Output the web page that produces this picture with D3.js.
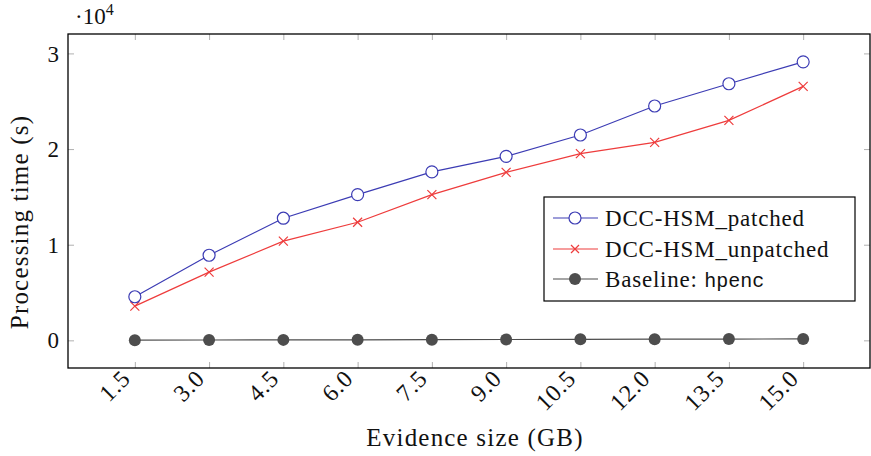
<!DOCTYPE html>
<html><head><meta charset="utf-8">
<script src="https://cdn.jsdelivr.net/npm/d3@7"></script>
<style>
body{margin:0;background:#fff;}
svg{display:block;}
</style></head>
<body><svg id="c" width="871" height="456"></svg>
<script>
const sizes = [1.5, 3.0, 4.5, 6.0, 7.5, 9.0, 10.5, 12.0, 13.5, 15.0];
const xTickLabels = ["1.5","3.0","4.5","6.0","7.5","9.0","10.5","12.0","13.5","15.0"];
const patched   = [4560, 8900, 12770, 15240, 17610, 19240, 21470, 24500, 26830, 29120];
const unpatched = [3580, 7130, 10370, 12350, 15240, 17570, 19520, 20700, 23000, 26550];
const baseline  = [20, 35, 50, 60, 75, 90, 105, 120, 135, 150];
const yTicks = [0, 10000, 20000, 30000];
const yTickLabels = ["0","1","2","3"];
const seriesNames = ["DCC-HSM_patched", "DCC-HSM_unpatched", "Baseline: "];

const SERIF = "Liberation Serif";
const MONO = "Liberation Mono";
const svg = d3.select("#c");
const L = 68, R = 870, T = 34, B = 368;

const xmin = d3.min(sizes), xmax = d3.max(sizes);
const xr = xmax - xmin;
const x = d3.scaleLinear().domain([xmin - 0.1*xr, xmax + 0.1*xr]).range([L, R]);
const allY = patched.concat(unpatched, baseline);
const ymin = d3.min(allY), ymax = d3.max(allY), yr = ymax - ymin;
const y = d3.scaleLinear().domain([ymin - 0.1*yr, ymax + 0.1*yr]).range([B, T]);

const tickCol = "#b0b0b0";
const gx = svg.append("g").attr("transform", `translate(0,${B})`)
  .call(d3.axisBottom(x).tickValues(sizes).tickSize(-6).tickFormat(""));
const gxt = svg.append("g").attr("transform", `translate(0,${T})`)
  .call(d3.axisTop(x).tickValues(sizes).tickSize(-6).tickFormat(""));
const gy = svg.append("g").attr("transform", `translate(${L},0)`)
  .call(d3.axisLeft(y).tickValues(yTicks).tickSize(-6).tickFormat((d,i)=>yTickLabels[i]));
const gyr = svg.append("g").attr("transform", `translate(${R},0)`)
  .call(d3.axisRight(y).tickValues(yTicks).tickSize(-6).tickFormat(""));
[gx,gxt,gy,gyr].forEach(g=>{
  g.select(".domain").remove();
  g.attr("font-family", SERIF);
  g.selectAll(".tick line").attr("stroke", tickCol).attr("stroke-width", 1);
});
gy.selectAll(".tick text").attr("x", -9).attr("dy","0.33em")
  .attr("font-family", SERIF).attr("font-size", 23).attr("fill","#111");

// x tick labels rotated
svg.append("g").selectAll("text").data(sizes).join("text")
  .attr("transform", d => `translate(${x(d)-3},${B+12}) rotate(-45)`)
  .attr("text-anchor","end")
  .attr("font-family", SERIF).attr("font-size", 24).attr("fill","#111")
  .attr("letter-spacing", 0.8)
  .text((d,i)=>xTickLabels[i]);

// frame
svg.append("rect").attr("x",L).attr("y",T).attr("width",R-L).attr("height",B-T)
  .attr("fill","none").attr("stroke","#000").attr("stroke-width",1.3);

// exponent
const ex = svg.append("text").attr("x",75).attr("y",24)
  .attr("font-family", SERIF).attr("font-size", 23).attr("fill","#111");
ex.append("tspan").text("·10");
ex.append("tspan").attr("dy",-9).attr("font-size",16).text("4");

// axis labels
svg.append("text").attr("x",475).attr("y",446).attr("text-anchor","middle")
  .attr("font-family", SERIF).attr("font-size", 25).attr("letter-spacing", 1.2).attr("fill","#111")
  .text("Evidence size (GB)");
svg.append("text").attr("transform",`translate(28,222) rotate(-90)`)
  .attr("text-anchor","middle")
  .attr("font-family", SERIF).attr("font-size", 25).attr("letter-spacing", 1.2).attr("fill","#111")
  .text("Processing time (s)");

const blue = "#3c3cb4", red = "#ee3c3c", gray = "#4d4d4d";
const line = d3.line().x((d,i)=>x(sizes[i])).y(d=>y(d));

svg.append("path").datum(baseline).attr("d",line).attr("fill","none").attr("stroke",gray).attr("stroke-width",1.2);
svg.append("g").selectAll("circle").data(baseline).join("circle")
  .attr("cx",(d,i)=>x(sizes[i])).attr("cy",d=>y(d)).attr("r",6).attr("fill",gray);

svg.append("path").datum(unpatched).attr("d",line).attr("fill","none").attr("stroke",red).attr("stroke-width",1.2);
const cross = (g, cx, cy, s, col) => {
  g.append("path").attr("d",`M${cx-s},${cy-s}L${cx+s},${cy+s}M${cx-s},${cy+s}L${cx+s},${cy-s}`)
   .attr("stroke",col).attr("stroke-width",1.2).attr("fill","none");
};
const gu = svg.append("g");
unpatched.forEach((d,i)=>cross(gu, x(sizes[i]), y(d), 4.5, red));

svg.append("path").datum(patched).attr("d",line).attr("fill","none").attr("stroke",blue).attr("stroke-width",1.2);
svg.append("g").selectAll("circle").data(patched).join("circle")
  .attr("cx",(d,i)=>x(sizes[i])).attr("cy",d=>y(d)).attr("r",6)
  .attr("fill","#fff").attr("stroke",blue).attr("stroke-width",1.2);

// legend
const lg = svg.append("g");
lg.append("rect").attr("x",544).attr("y",197).attr("width",311).attr("height",104)
  .attr("fill","#fff").attr("stroke","#000").attr("stroke-width",1.2);
const rows = [218, 249, 279];
const cols = [blue, red, gray];
rows.forEach((ry,i)=>{
  lg.append("line").attr("x1",553).attr("x2",598).attr("y1",ry).attr("y2",ry)
    .attr("stroke",cols[i]).attr("stroke-width",1.2);
  if(i===0) lg.append("circle").attr("cx",575).attr("cy",ry).attr("r",6).attr("fill","#fff").attr("stroke",blue).attr("stroke-width",1.2);
  if(i===1) cross(lg,575,ry,4,red);
  if(i===2) lg.append("circle").attr("cx",575).attr("cy",ry).attr("r",6).attr("fill",gray);
  const t = lg.append("text").attr("x",605).attr("y",ry).attr("dy","0.34em")
    .attr("font-family", SERIF).attr("font-size", 23).attr("letter-spacing", 0.8).attr("fill","#111");
  t.append("tspan").text(seriesNames[i]);
  if(i===2) t.append("tspan").attr("font-family", MONO).attr("font-size", 20).attr("letter-spacing", 0).text("hpenc");
});
</script></body></html>
